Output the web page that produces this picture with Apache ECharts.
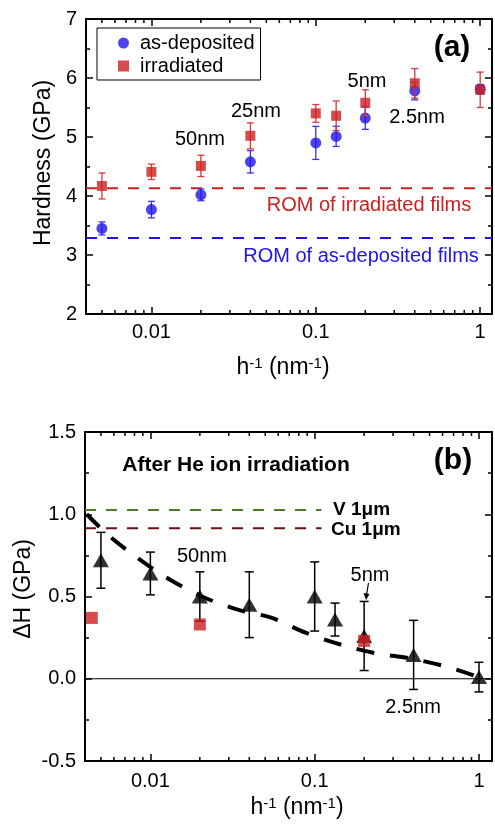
<!DOCTYPE html>
<html>
<head>
<meta charset="utf-8">
<script src="https://cdn.jsdelivr.net/npm/echarts@6/dist/echarts.min.js"></script>
<style>
  html, body { margin: 0; padding: 0; background: #fff; }
  #chart { width: 495px; height: 826px; }
</style>
</head>
<body>
<div id="chart"></div>
<script>
// h^-1 (nm^-1) for h = 200, 100, 50, 25, 10, 7.5, 5, 2.5, 1 nm
var hInv = [0.005, 0.01, 0.02, 0.04, 0.1, 0.133, 0.2, 0.4, 1];

// (a) hardness
var depMean = [3.45, 3.77, 4.02, 4.58, 4.90, 5.01, 5.32, 5.78, 5.81];
var depErr  = [0.11, 0.14, 0.10, 0.19, 0.28, 0.17, 0.19, 0.15, 0.08];
var irrMean = [4.17, 4.41, 4.51, 5.02, 5.40, 5.36, 5.58, 5.91, 5.80];
var irrErr  = [0.22, 0.13, 0.18, 0.22, 0.15, 0.25, 0.22, 0.25, 0.30];
var romIrr = 4.13;
var romDep = 3.29;

// (b) hardness increase
var dH    = [0.72, 0.64, 0.50, 0.45, 0.50, 0.36, 0.26, 0.145, 0.01];
var dHErr = [0.17, 0.13, 0.15, 0.20, 0.21, 0.10, 0.21, 0.21, 0.09];
var redX  = [0.0044, 0.02, 0.2];
var redY  = [0.37, 0.33, 0.23];
var fitX  = [0.0041, 0.0053, 0.0077, 0.0123, 0.0206, 0.034, 0.055, 0.088, 0.147, 0.235, 0.376, 0.63, 1.0];
var fitY  = [1.0, 0.89, 0.76, 0.62, 0.50, 0.42, 0.37, 0.28, 0.205, 0.155, 0.125, 0.074, 0.01];
var vRef  = 1.026;
var cuRef = 0.915;
var refEnd = 0.11;

// axis ranges / ticks
var xMinTop = 0.004, xMaxTop = 1.18;
var xMinBot = 0.004, xMaxBot = 1.2;
var yTop = [2, 7];
var yBot = [-0.5, 1.5];
var xMinorTicks = [0.005, 0.006, 0.007, 0.008, 0.009,
  0.02, 0.03, 0.04, 0.05, 0.06, 0.07, 0.08, 0.09,
  0.2, 0.3, 0.4, 0.5, 0.6, 0.7, 0.8, 0.9];

var FONT = '"Liberation Sans", Arial, sans-serif';
var BLUE = '#1f14e8';
var RED = '#cc1f1f';

function zip(a, b) { return a.map(function (v, i) { return [v, b[i]]; }); }
function bars(x, m, e) { return x.map(function (v, i) { return [v, m[i] - e[i], m[i] + e[i]]; }); }

function errorBar(color, capW, lw) {
  return function (params, api) {
    var x = api.value(0);
    var lo = api.coord([x, api.value(1)]);
    var hi = api.coord([x, api.value(2)]);
    var s = { stroke: color, lineWidth: lw };
    return { type: 'group', children: [
      { type: 'line', shape: { x1: lo[0], y1: lo[1], x2: hi[0], y2: hi[1] }, style: s },
      { type: 'line', shape: { x1: lo[0] - capW / 2, y1: lo[1], x2: lo[0] + capW / 2, y2: lo[1] }, style: s },
      { type: 'line', shape: { x1: hi[0] - capW / 2, y1: hi[1], x2: hi[0] + capW / 2, y2: hi[1] }, style: s }
    ]};
  };
}

// minor ticks of the log axes, bottom and top edges
function minorTicks(yr) {
  return function (params, api) {
    var x = api.value(0);
    var b = api.coord([x, yr[0]]);
    var t = api.coord([x, yr[1]]);
    var s = { stroke: '#000', lineWidth: 1.5 };
    return { type: 'group', children: [
      { type: 'line', shape: { x1: b[0], y1: b[1], x2: b[0], y2: b[1] - 4 }, style: s },
      { type: 'line', shape: { x1: t[0], y1: t[1], x2: t[0], y2: t[1] + 4 }, style: s }
    ]};
  };
}

function decadeLabel(v) {
  var l = Math.log(v) / Math.LN10;
  if (Math.abs(l - Math.round(l)) > 1e-6) return '';
  return String(parseFloat(v.toPrecision(3)));
}

function xAxisPair(grid, mn, mx, margin) {
  var common = {
    gridIndex: grid, type: 'log', logBase: 10, min: mn, max: mx,
    axisLine: { show: true, onZero: false, lineStyle: { color: '#000', width: 2 } },
    axisTick: { show: true, inside: true, length: 7, lineStyle: { color: '#000', width: 1.5 } },
    splitLine: { show: false }
  };
  return [
    Object.assign({}, common, { position: 'bottom',
      axisLabel: { formatter: decadeLabel, fontSize: 20, color: '#000', margin: margin, fontFamily: FONT } }),
    Object.assign({}, common, { position: 'top', axisLabel: { show: false } })
  ];
}

function yAxisPair(grid, yr, interval, fmt) {
  var common = {
    gridIndex: grid, type: 'value', min: yr[0], max: yr[1], interval: interval,
    axisLine: { show: true, onZero: false, lineStyle: { color: '#000', width: 2 } },
    axisTick: { show: true, inside: true, length: 7, lineStyle: { color: '#000', width: 1.5 } },
    minorTick: { show: true, splitNumber: 2, length: 4, lineStyle: { color: '#000', width: 1.5 } },
    splitLine: { show: false }
  };
  return [
    Object.assign({}, common, { position: 'left',
      axisLabel: { formatter: fmt, fontSize: 20, color: '#000', margin: 9, fontFamily: FONT } }),
    Object.assign({}, common, { position: 'right', axisLabel: { show: false } })
  ];
}

function txt(x, y, text, opt) {
  opt = opt || {};
  return {
    type: 'text', x: x, y: y, rotation: opt.rot || 0, z: 100,
    style: {
      text: text, fill: opt.color || '#000',
      fontSize: opt.size || 20, fontFamily: FONT, fontWeight: opt.bold ? 'bold' : 'normal',
      align: opt.align || 'center', verticalAlign: 'middle', rich: opt.rich
    }
  };
}

var supRich = {
  base: { fontSize: 23, fontFamily: FONT, fill: '#000' },
  sup: { fontSize: 15, fontFamily: FONT, fill: '#000', verticalAlign: 'top', padding: [0, 0, 9, 0] }
};

var myChart = echarts.init(document.getElementById('chart'));

var option = {
  animation: false,
  backgroundColor: '#fff',
  textStyle: { fontFamily: FONT },
  grid: [
    { left: 86, right: 2, top: 19, height: 295 },
    { left: 85, right: 2, top: 432, height: 329 }
  ],
  xAxis: xAxisPair(0, xMinTop, xMaxTop, 8).concat(xAxisPair(1, xMinBot, xMaxBot, 10)),
  yAxis: yAxisPair(0, yTop, 1, '{value}').concat(yAxisPair(1, yBot, 0.5, function (v) { return v.toFixed(1); })),
  legend: {
    data: ['as-deposited', 'irradiated'],
    orient: 'vertical', left: 97, top: 28,
    borderColor: '#000', borderWidth: 1, borderRadius: 0,
    padding: [5, 6, 4, 21], itemGap: 3, itemWidth: 11, itemHeight: 11,
    selectedMode: false,
    textStyle: { fontSize: 20, color: '#000', fontFamily: FONT, padding: [0, 0, 0, 6] }
  },
  series: [
    // panel (a)
    { type: 'custom', xAxisIndex: 0, yAxisIndex: 0, renderItem: minorTicks(yTop),
      data: xMinorTicks.map(function (v) { return [v, yTop[0]]; }), silent: true, z: 1 },
    { type: 'line', name: 'romIrr', xAxisIndex: 0, yAxisIndex: 0, symbol: 'none',
      data: [[xMinTop, romIrr], [xMaxTop, romIrr]], lineStyle: { color: RED, width: 2, type: [11, 10] }, z: 2 },
    { type: 'line', name: 'romDep', xAxisIndex: 0, yAxisIndex: 0, symbol: 'none',
      data: [[xMinTop, romDep], [xMaxTop, romDep]], lineStyle: { color: BLUE, width: 2, type: [11, 10] }, z: 2 },
    { type: 'custom', xAxisIndex: 0, yAxisIndex: 0, renderItem: errorBar('#3a33ee', 7, 1.3),
      encode: { x: 0, y: [1, 2] }, data: bars(hInv, depMean, depErr), z: 3 },
    { type: 'scatter', name: 'as-deposited', xAxisIndex: 0, yAxisIndex: 0, symbol: 'circle', symbolSize: 11,
      itemStyle: { color: BLUE }, data: zip(hInv, depMean), z: 4 },
    { type: 'custom', xAxisIndex: 0, yAxisIndex: 0, renderItem: errorBar('#d63a3a', 7, 1.3),
      encode: { x: 0, y: [1, 2] }, data: bars(hInv, irrMean, irrErr), z: 5 },
    { type: 'scatter', name: 'irradiated', xAxisIndex: 0, yAxisIndex: 0, symbol: 'rect', symbolSize: 10,
      itemStyle: { color: RED }, data: zip(hInv, irrMean), z: 6 },

    // panel (b)
    { type: 'custom', xAxisIndex: 2, yAxisIndex: 2, renderItem: minorTicks(yBot),
      data: xMinorTicks.map(function (v) { return [v, yBot[0]]; }), silent: true, z: 1 },
    { type: 'line', name: 'zero', xAxisIndex: 2, yAxisIndex: 2, symbol: 'none',
      data: [[xMinBot, 0], [xMaxBot, 0]], lineStyle: { color: '#000', width: 1.2 }, z: 2 },
    { type: 'line', name: 'V 1um', xAxisIndex: 2, yAxisIndex: 2, symbol: 'none',
      data: [[xMinBot, vRef], [refEnd, vRef]], lineStyle: { color: '#4a7f22', width: 2, type: [11, 10] }, z: 2 },
    { type: 'line', name: 'Cu 1um', xAxisIndex: 2, yAxisIndex: 2, symbol: 'none',
      data: [[xMinBot, cuRef], [refEnd, cuRef]], lineStyle: { color: '#6b1010', width: 2, type: [11, 10] }, z: 2 },
    { type: 'line', name: 'fit', xAxisIndex: 2, yAxisIndex: 2, symbol: 'none', smooth: 0.3,
      data: zip(fitX, fitY), lineStyle: { color: '#000', width: 4, type: [18, 16], cap: 'butt' }, z: 3 },
    { type: 'custom', xAxisIndex: 2, yAxisIndex: 2, renderItem: errorBar('#000', 9, 1.5),
      encode: { x: 0, y: [1, 2] }, data: bars(hInv, dH, dHErr), z: 4 },
    { type: 'scatter', name: 'dH', xAxisIndex: 2, yAxisIndex: 2, symbol: 'triangle', symbolSize: [16, 14],
      itemStyle: { color: '#000' }, data: zip(hInv, dH), z: 5 },
    { type: 'scatter', name: 'dH irr', xAxisIndex: 2, yAxisIndex: 2, symbol: 'rect', symbolSize: 12,
      itemStyle: { color: RED }, data: zip(redX, redY), z: 6 }
  ],
  graphic: [
    // axis names
    txt(44, 163, 'Hardness (GPa)', { rot: Math.PI / 2, size: 23 }),
    txt(24, 589, '\u0394H (GPa)', { rot: Math.PI / 2, size: 23 }),
    txt(283, 368, '{base|h}{sup|-1}{base| (nm}{sup|-1}{base|)}', { rich: supRich }),
    txt(297, 808, '{base|h}{sup|-1}{base| (nm}{sup|-1}{base|)}', { rich: supRich }),
    // panel (a) annotations
    txt(452, 48, '(a)', { bold: true, size: 30 }),
    txt(200, 139, '50nm'),
    txt(256, 111, '25nm'),
    txt(367, 81, '5nm'),
    txt(417, 117, '2.5nm'),
    txt(369, 205, 'ROM of irradiated films', { color: RED }),
    txt(361, 256, 'ROM of as-deposited films', { color: BLUE }),
    // panel (b) annotations
    txt(236, 465, 'After He ion irradiation', { bold: true, size: 21 }),
    txt(453, 461, '(b)', { bold: true, size: 30 }),
    txt(333, 510, 'V 1\u03bcm', { bold: true, size: 19, align: 'left' }),
    txt(331, 530, 'Cu 1\u03bcm', { bold: true, size: 19, align: 'left' }),
    txt(202, 556, '50nm'),
    txt(370, 575, '5nm'),
    txt(413, 707, '2.5nm'),
    { type: 'line', z: 100, shape: { x1: 368.5, y1: 583, x2: 366.5, y2: 595 }, style: { stroke: '#000', lineWidth: 1.2 } },
    { type: 'polygon', z: 100, shape: { points: [[363.5, 593], [369.5, 594], [366, 600]] }, style: { fill: '#000' } }
  ]
};

myChart.setOption(option);
</script>
</body>
</html>
